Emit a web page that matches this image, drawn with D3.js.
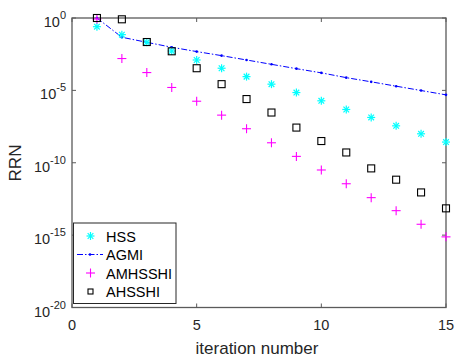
<!DOCTYPE html>
<html><head><meta charset="utf-8">
<script src="https://cdn.jsdelivr.net/npm/d3@7"></script>
<style>body{margin:0;background:#fff;} svg{display:block;}</style>
</head><body>
<svg id="c" width="459" height="362"></svg>
<script>
const iterations = [1,2,3,4,5,6,7,8,9,10,11,12,13,14,15];
// log10 of RRN values
const hssLog     = [-0.6,-1.15,-1.68,-2.28,-2.9,-3.47,-4.05,-4.57,-5.15,-5.72,-6.32,-6.87,-7.45,-8.0,-8.57];
const agmiLog    = [0,-1.33,-1.68,-2.02,-2.32,-2.6,-2.9,-3.2,-3.5,-3.79,-4.12,-4.41,-4.71,-5.01,-5.31];
const amhsshiLog = [-0.07,-2.8,-3.77,-4.8,-5.75,-6.71,-7.65,-8.62,-9.56,-10.5,-11.45,-12.41,-13.31,-14.25,-15.12];
const ahsshiLog  = [0,-0.09,-1.66,-2.3,-3.47,-4.57,-5.6,-6.53,-7.57,-8.5,-9.29,-10.39,-11.17,-12.05,-13.15];
const xTicks = [0,5,10,15];
const yTickExps = [0,-5,-10,-15,-20];
const seriesNames = ["HSS","AGMI","AMHSSHI","AHSSHI"];

const toVal = a => a.map(e => Math.pow(10, e));
const hss = toVal(hssLog), agmi = toVal(agmiLog), amh = toVal(amhsshiLog), ahs = toVal(ahsshiLog);

const svg = d3.select("#c");
const L = 72, R = 446, T = 18, B = 307.5;
const x = d3.scaleLinear().domain([0,15]).range([L,R]);
const y = d3.scaleLog().domain([1e-20,1]).range([B,T]);
const axisCol = "#262626";
const font = "Liberation Sans, Arial, sans-serif";

const g = svg.append("g");
g.append("rect").attr("x",L).attr("y",T).attr("width",R-L).attr("height",B-T)
 .attr("fill","none").attr("stroke","#5a5a5a").attr("stroke-width",1.3);

xTicks.forEach(t=>{
  g.append("line").attr("x1",x(t)).attr("x2",x(t)).attr("y1",B).attr("y2",B-4).attr("stroke","#5a5a5a");
  g.append("line").attr("x1",x(t)).attr("x2",x(t)).attr("y1",T).attr("y2",T+4).attr("stroke","#5a5a5a");
  g.append("text").attr("x",x(t)).attr("y",B+22).attr("text-anchor","middle")
   .attr("font-family",font).attr("font-size",14.5).attr("fill",axisCol).text(t);
});
yTickExps.forEach(e=>{
  const yy = y(Math.pow(10,e));
  g.append("line").attr("x1",L).attr("x2",L+4).attr("y1",yy).attr("y2",yy).attr("stroke","#5a5a5a");
  g.append("line").attr("x1",R).attr("x2",R-4).attr("y1",yy).attr("y2",yy).attr("stroke","#5a5a5a");
  const t = g.append("text").attr("x",L-6).attr("y",yy+9).attr("text-anchor","end")
   .attr("font-family",font).attr("font-size",14.5).attr("fill",axisCol);
  t.append("tspan").text("10");
  t.append("tspan").attr("dy",-8).attr("font-size",11).text(e);
});

g.append("text").attr("x",257).attr("y",354).attr("text-anchor","middle")
 .attr("font-family",font).attr("font-size",17).attr("fill",axisCol).text("iteration number");
g.append("text").attr("transform","translate(21,163) rotate(-90)").attr("text-anchor","middle")
 .attr("font-family",font).attr("font-size",17).attr("fill",axisCol).text("RRN");

function star(sel, cx, cy, s){
  const gg = sel.append("g").attr("stroke","#00ffff").attr("stroke-width",1.2);
  [0,45,90,135].forEach(a=>{
    const r = a*Math.PI/180;
    gg.append("line").attr("x1",cx-s*Math.cos(r)).attr("y1",cy-s*Math.sin(r))
      .attr("x2",cx+s*Math.cos(r)).attr("y2",cy+s*Math.sin(r));
  });
}
function plus(sel,cx,cy,s){
  const gg = sel.append("g").attr("stroke","#ff00ff").attr("stroke-width",1.1);
  gg.append("line").attr("x1",cx-s).attr("x2",cx+s).attr("y1",cy).attr("y2",cy);
  gg.append("line").attr("x1",cx).attr("x2",cx).attr("y1",cy-s).attr("y2",cy+s);
}
function square(sel,cx,cy,s){
  sel.append("rect").attr("x",cx-s).attr("y",cy-s).attr("width",2*s).attr("height",2*s)
   .attr("fill","none").attr("stroke","#000").attr("stroke-width",1.1);
}

const plot = svg.append("g");
const line = d3.line().x((d,i)=>x(iterations[i])).y(d=>y(d));
plot.append("path").datum(agmi).attr("d",line).attr("fill","none")
  .attr("stroke","#0000ff").attr("stroke-width",1).attr("stroke-dasharray","6,2,1.5,2");
agmi.forEach((v,i)=>plot.append("circle").attr("cx",x(iterations[i])).attr("cy",y(v)).attr("r",1.3).attr("fill","#0000ff"));

hss.forEach((v,i)=>star(plot,x(iterations[i]),y(v),4));
amh.forEach((v,i)=>plus(plot,x(iterations[i]),y(v),4.5));
ahs.forEach((v,i)=>square(plot,x(iterations[i]),y(v),3.5));

const lg = svg.append("g");
lg.append("rect").attr("x",73.5).attr("y",223).attr("width",102.5).attr("height",80.5)
  .attr("fill","#fff").attr("stroke","#262626").attr("stroke-width",1);
const ly = [236,254.5,273,291.5];
star(lg,90.5,ly[0],4);
lg.append("line").attr("x1",77).attr("x2",103).attr("y1",ly[1]).attr("y2",ly[1])
  .attr("stroke","#0000ff").attr("stroke-width",1).attr("stroke-dasharray","6,2,1.5,2");
lg.append("circle").attr("cx",90).attr("cy",ly[1]).attr("r",1.3).attr("fill","#0000ff");
plus(lg,90.5,ly[2],4.5);
square(lg,90.5,ly[3],2.5);
seriesNames.forEach((n,i)=>{
  lg.append("text").attr("x",106).attr("y",ly[i]+5.5).attr("font-family",font)
    .attr("font-size",14.5).attr("fill","#000").text(n);
});
</script>
</body></html>
